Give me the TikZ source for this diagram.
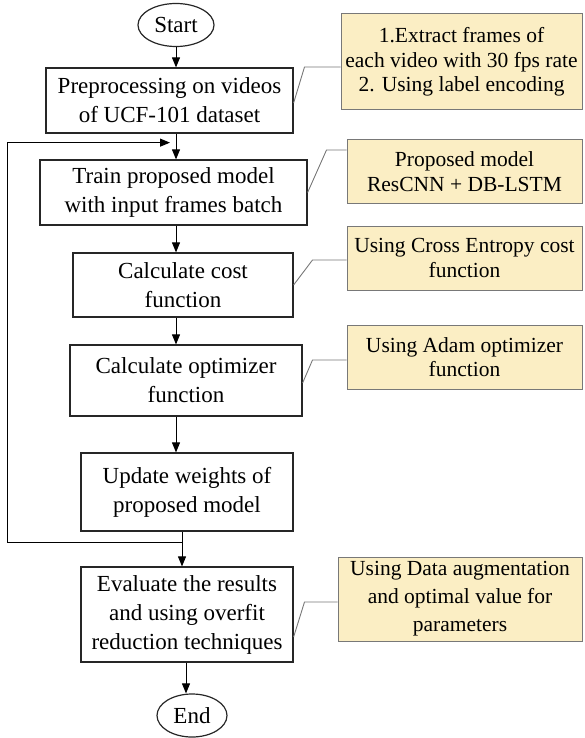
\documentclass[tikz,border=0pt]{standalone}
\usepackage{fontspec}
\setmainfont{Liberation Serif}
\usetikzlibrary{shapes,arrows.meta,positioning,calc}
\definecolor{notefill}{RGB}{251,238,196}
\definecolor{noteline}{RGB}{120,120,120}

\begin{document}
\begin{tikzpicture}[
    x=1pt, y=-1pt,
    every node/.style={font=\fontsize{23}{29}\selectfont, inner sep=0pt},
    procbox/.style={rectangle, draw=black!85, line width=1.2pt, align=center},
    terminal/.style={ellipse, draw=black!85, line width=1.2pt, minimum width=76pt, minimum height=43pt},
    note/.style={rectangle, draw=noteline, line width=1pt, fill=notefill, align=center, font=\fontsize{21.5}{24.5}\selectfont},
    arrow/.style={-{Triangle[length=10pt,width=8pt]}, line width=1pt},
    callout/.style={draw=noteline, line width=0.9pt}
]
\useasboundingbox (0,0) rectangle (585,738);

% Main flow
\node[terminal] (start) at (176,25) {Start};
\node[procbox, minimum width=247pt, minimum height=65pt] (prep) at (169.5,100.5) {Preprocessing on videos\\of UCF-101 dataset};
\node[procbox, minimum width=267pt, minimum height=65pt] (train) at (173.5,192.5) {Train proposed model\\with input frames batch};
\node[procbox, minimum width=220pt, minimum height=64pt] (cost) at (183,285) {Calculate cost\\function};
\node[procbox, minimum width=232pt, minimum height=71pt] (optim) at (186,380.5) {Calculate optimizer\\function};
\node[procbox, minimum width=212pt, minimum height=78pt] (update) at (187,492) {Update weights of\\proposed model};
\node[procbox, minimum width=212pt, minimum height=95pt] (eval) at (187,614.5) {Evaluate the results\\and using overfit\\reduction techniques};
\node[terminal, minimum width=70pt] (end) at (192,715.5) {End};

% Notes
\node[note, minimum width=241pt, minimum height=96pt] (n1) at (461.5,62) {1.Extract frames of\\each video with 30 fps rate\\2. Using label encoding};
\node[note, minimum width=235pt, minimum height=63pt] (n2) at (464.5,171.5) {Proposed model\\ResCNN + DB-LSTM};
\node[note, minimum width=235pt, minimum height=64pt] (n3) at (464.5,258) {Using Cross Entropy cost\\function};
\node[note, minimum width=235pt, minimum height=64pt] (n4) at (464.5,357) {Using Adam optimizer\\function};
\node[note, minimum width=244pt, minimum height=84pt, font=\fontsize{21.5}{28}\selectfont] (n5) at (460,599) {Using Data augmentation\\and optimal value for\\parameters};

% Connections
\draw[arrow] (start) -- (start |- prep.north);
\draw[arrow] (prep.south -| start) -- (train.north -| start);
\draw[arrow] (train.south -| start) -- (cost.north -| start);
\draw[arrow] (cost.south -| start) -- (optim.north -| start);
\draw[arrow] (optim.south -| start) -- (update.north -| start);
\draw[arrow] ([xshift=-5]update.south) -- ([xshift=-5]eval.north);
\draw[arrow] ([xshift=-1]eval.south) -- ([xshift=-1]eval.south |- end.north);

% Loop back
\coordinate (split) at ([xshift=-5,yshift=-11]update.south);
\coordinate (loopin) at ($(prep.south)!0.35!(train.north)$);
\draw[arrow] (split) -- ++(-175,0) |- ([xshift=-6]loopin -| start);

% Callouts
\draw[callout] ([yshift=-5]n1.west) -- ++(-36,0) -- ([yshift=-2.5]prep.east);
\draw[callout] ([yshift=21.5]n2.west) -- ++(-20,0) -- (train.east);
\draw[callout] ([yshift=-2]n3.west) -- ++(-34,0) -- (cost.east);
\draw[callout] ([yshift=-3]n4.west) -- ++(-34,0) -- ([yshift=-2.5]optim.east);
\draw[callout] ([yshift=-3]n5.west) -- ++(-33,0) -- ([yshift=-22.5]eval.east);

\end{tikzpicture}
\end{document}
